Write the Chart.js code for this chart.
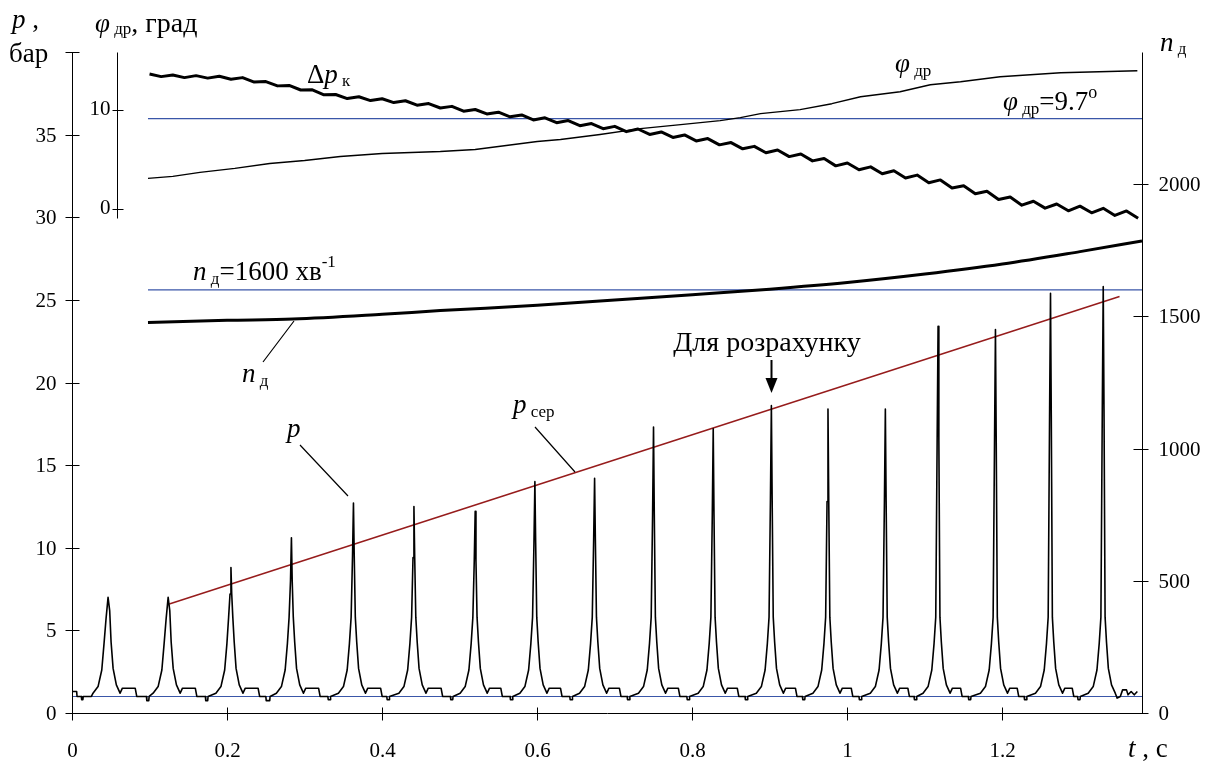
<!DOCTYPE html>
<html>
<head>
<meta charset="utf-8">
<script src="https://cdn.jsdelivr.net/npm/chart.js@4.4.1/dist/chart.umd.min.js"></script>
<style>
  html, body { margin: 0; padding: 0; background: #fff; }
  #wrap { width: 1209px; height: 761px; }
</style>
</head>
<body>
<div id="wrap"><canvas id="chart" width="1209" height="761"></canvas></div>
<script>
// ---- Дані ----
const xTicks = [0, 0.2, 0.4, 0.6, 0.8, 1, 1.2];
const pTicks = [0, 5, 10, 15, 20, 25, 30, 35];
const nTicks = [0, 500, 1000, 1500, 2000];
const phiTicks = [0, 10];

// тиск у циліндрі p, бар: [t, p]
const pTrace = [
  [0,1.3],[0.006,1.3],[0.0065,1.0],[0.012,1.0],[0.0125,0.8],[0.014,0.8],[0.0145,1.0],[0.025,1.0],
  [0.0271,1.2],[0.0336,1.6],[0.0384,2.6],[0.0413,4.2],[0.0439,5.7],[0.0465,7.0],[0.0486,6.2],[0.0504,4.3],[0.053,2.7],[0.0572,1.7],[0.062,1.2],[0.065,1.5],[0.0815,1.5],[0.0835,1.0],
  [0.096,1.0],[0.0965,0.75],[0.099,0.75],[0.0995,1.0],
  [0.1046,1.2],[0.1111,1.6],[0.1159,2.6],[0.1188,4.2],[0.1214,5.7],[0.124,7.0],[0.1261,6.2],[0.1279,4.3],[0.1305,2.7],[0.1347,1.7],[0.1395,1.2],[0.1425,1.5],[0.159,1.5],[0.161,1.0],
  [0.172,1.0],[0.1725,0.75],[0.175,0.75],[0.1755,1.0],
  [0.1856,1.2],[0.1921,1.6],[0.1969,2.6],[0.1998,4.2],[0.202,5.8],[0.2038,7.2],[0.205,8.8],[0.206,7.2],[0.2074,5.8],[0.2092,4.3],[0.2116,2.7],[0.2157,1.7],[0.2205,1.2],[0.2235,1.5],[0.24,1.5],[0.242,1.0],
  [0.25,1.0],[0.2505,0.75],[0.255,0.75],[0.2555,1.0],
  [0.2636,1.2],[0.2701,1.6],[0.2749,2.6],[0.2778,4.2],[0.28,5.8],[0.2818,8.0],[0.283,10.6],[0.284,8.0],[0.2854,5.8],[0.2872,4.3],[0.2896,2.7],[0.2937,1.7],[0.2985,1.2],[0.3015,1.5],[0.318,1.5],[0.32,1.0],
  [0.33,1.0],[0.3305,0.8],[0.333,0.8],[0.3335,1.0],
  [0.3436,1.2],[0.3501,1.6],[0.3549,2.6],[0.3578,4.2],[0.36,5.8],[0.3618,9.5],[0.363,12.7],[0.364,9.5],[0.3654,5.8],[0.3672,4.3],[0.3696,2.7],[0.3737,1.7],[0.3785,1.2],[0.3815,1.5],[0.398,1.5],[0.4,1.0],
  [0.406,1.0],[0.4065,0.8],[0.409,0.8],[0.4095,1.0],
  [0.4216,1.2],[0.4281,1.6],[0.4329,2.6],[0.4358,4.2],[0.438,5.8],[0.4398,9.4],[0.441,12.5],[0.442,9.4],[0.4434,5.8],[0.4452,4.3],[0.4476,2.7],[0.4517,1.7],[0.4565,1.2],[0.4595,1.5],[0.476,1.5],[0.478,1.0],
  [0.488,1.0],[0.4885,0.8],[0.491,0.8],[0.4915,1.0],
  [0.5006,1.2],[0.5071,1.6],[0.5119,2.6],[0.5148,4.2],[0.517,5.8],[0.5188,9.2],[0.52,12.2],[0.521,9.2],[0.5224,5.8],[0.5242,4.3],[0.5266,2.7],[0.5307,1.7],[0.5355,1.2],[0.5385,1.5],[0.553,1.5],[0.555,1.0],
  [0.565,1.0],[0.5655,0.8],[0.568,0.8],[0.5685,1.0],
  [0.5776,1.2],[0.5841,1.6],[0.5889,2.6],[0.5918,4.2],[0.594,5.8],[0.5958,10.3],[0.597,14.0],[0.598,10.3],[0.5994,5.8],[0.6012,4.3],[0.6036,2.7],[0.6077,1.7],[0.6125,1.2],[0.6155,1.5],[0.63,1.5],[0.632,1.0],
  [0.642,1.0],[0.6425,0.8],[0.645,0.8],[0.6455,1.0],
  [0.6546,1.2],[0.6611,1.6],[0.6659,2.6],[0.6688,4.2],[0.671,5.8],[0.6728,10.5],[0.674,14.2],[0.675,10.5],[0.6764,5.8],[0.6782,4.3],[0.6806,2.7],[0.6847,1.7],[0.6895,1.2],[0.6925,1.5],[0.706,1.5],[0.708,1.0],
  [0.716,1.0],[0.7165,0.8],[0.719,0.8],[0.7195,1.0],
  [0.7306,1.2],[0.7371,1.6],[0.7419,2.6],[0.7448,4.2],[0.747,5.8],[0.7488,12.0],[0.75,17.3],[0.751,12.0],[0.7524,5.8],[0.7542,4.3],[0.7566,2.7],[0.7607,1.7],[0.7655,1.2],[0.7685,1.5],[0.782,1.5],[0.784,1.0],
  [0.793,1.0],[0.7935,0.8],[0.796,0.8],[0.7965,1.0],
  [0.8076,1.2],[0.8141,1.6],[0.8189,2.6],[0.8218,4.2],[0.824,5.8],[0.8258,12.0],[0.827,17.2],[0.828,12.0],[0.8294,5.8],[0.8312,4.3],[0.8336,2.7],[0.8377,1.7],[0.8425,1.2],[0.8455,1.5],[0.858,1.5],[0.86,1.0],
  [0.868,1.0],[0.8685,0.8],[0.871,0.8],[0.8715,1.0],
  [0.8826,1.2],[0.8891,1.6],[0.8939,2.6],[0.8968,4.2],[0.899,5.8],[0.9008,13.0],[0.902,18.6],[0.903,13.0],[0.9044,5.8],[0.9062,4.3],[0.9086,2.7],[0.9127,1.7],[0.9175,1.2],[0.9205,1.5],[0.933,1.5],[0.935,1.0],
  [0.942,1.0],[0.9425,0.8],[0.945,0.8],[0.9455,1.0],
  [0.9556,1.2],[0.9621,1.6],[0.9669,2.6],[0.9698,4.2],[0.972,5.8],[0.9738,12.8],[0.975,18.4],[0.976,12.8],[0.9774,5.8],[0.9792,4.3],[0.9816,2.7],[0.9857,1.7],[0.9905,1.2],[0.9935,1.5],[1.005,1.5],[1.007,1.0],
  [1.015,1.0],[1.0155,0.8],[1.018,0.8],[1.0185,1.0],
  [1.0296,1.2],[1.0361,1.6],[1.0409,2.6],[1.0438,4.2],[1.046,5.8],[1.0478,12.8],[1.049,18.4],[1.05,12.8],[1.0514,5.8],[1.0532,4.3],[1.0556,2.7],[1.0597,1.7],[1.0645,1.2],[1.0675,1.5],[1.078,1.5],[1.08,1.0],
  [1.086,1.0],[1.0865,0.8],[1.089,0.8],[1.0895,1.0],
  [1.0976,1.2],[1.1041,1.6],[1.1089,2.6],[1.1118,4.2],[1.114,5.8],[1.1158,16.5],[1.117,23.4],[1.118,16.5],[1.1194,5.8],[1.1212,4.3],[1.1236,2.7],[1.1277,1.7],[1.1325,1.2],[1.1355,1.5],[1.146,1.5],[1.148,1.0],
  [1.156,1.0],[1.1565,0.8],[1.159,0.8],[1.1595,1.0],
  [1.1716,1.2],[1.1781,1.6],[1.1829,2.6],[1.1858,4.2],[1.188,5.8],[1.1898,16.4],[1.191,23.2],[1.192,16.4],[1.1934,5.8],[1.1952,4.3],[1.1976,2.7],[1.2017,1.7],[1.2065,1.2],[1.2095,1.5],[1.219,1.5],[1.221,1.0],
  [1.228,1.0],[1.2285,0.8],[1.231,0.8],[1.2315,1.0],
  [1.2426,1.2],[1.2491,1.6],[1.2539,2.6],[1.2568,4.2],[1.259,5.8],[1.2608,18.0],[1.262,25.4],[1.263,18.0],[1.2644,5.8],[1.2662,4.3],[1.2686,2.7],[1.2727,1.7],[1.2775,1.2],[1.2805,1.5],[1.29,1.5],[1.292,1.0],
  [1.297,1.0],[1.2975,0.8],[1.3,0.8],[1.3005,1.0],
  [1.3106,1.2],[1.3171,1.6],[1.3219,2.6],[1.3248,4.2],[1.327,5.8],[1.3288,18.4],[1.33,25.8],[1.331,18.4],[1.3324,5.8],[1.3342,4.3],[1.3366,2.7],[1.3407,1.7],[1.3455,1.2],[1.348,0.9],[1.352,1.0],[1.355,1.4],[1.36,1.4],[1.362,1.1],[1.366,1.3],[1.37,1.1],[1.374,1.3]
];

// середній тиск p_сер (пряма)
const pSer = [[0.1255, 6.6], [1.351, 25.2]];

// частота обертання n_д, хв-1
const nTrace = [[0.098,1477],[0.2,1485],[0.285,1490],[0.4,1508],[0.475,1522],[0.6,1542],[0.7,1562],[0.8,1582],[0.9,1603],[1.0,1628],[1.1,1660],[1.2,1698],[1.3,1745],[1.38,1785]];

// кут дроселя φ_др, град
const phiTrace = [[0.098,3.1],[0.13,3.3],[0.165,3.7],[0.21,4.1],[0.255,4.6],[0.3,4.9],[0.346,5.3],[0.4,5.6],[0.475,5.8],[0.52,6.0],[0.56,6.4],[0.6,6.8],[0.63,7.0],[0.681,7.5],[0.733,8.1],[0.785,8.5],[0.836,8.9],[0.862,9.2],[0.888,9.6],[0.939,10.0],[0.98,10.6],[1.017,11.3],[1.068,11.8],[1.107,12.5],[1.146,12.8],[1.197,13.3],[1.275,13.7],[1.374,13.9]];

// перепад тиску Δp_к, бар (шкала p)
const dpTrace = [
  [0.100,38.67],[0.115,38.51],[0.130,38.61],[0.145,38.45],[0.160,38.57],[0.175,38.42],[0.190,38.53],[0.205,38.35],
  [0.220,38.45],[0.235,38.18],[0.250,38.21],[0.265,37.95],[0.280,37.98],[0.295,37.70],[0.310,37.71],[0.325,37.41],
  [0.340,37.43],[0.355,37.18],[0.370,37.29],[0.385,37.06],[0.400,37.17],[0.415,36.94],[0.430,37.05],[0.445,36.78],
  [0.460,36.88],[0.475,36.61],[0.490,36.71],[0.505,36.42],[0.520,36.52],[0.535,36.25],[0.550,36.36],[0.565,36.08],
  [0.580,36.19],[0.595,35.89],[0.610,36.02],[0.625,35.72],[0.640,35.85],[0.655,35.54],[0.670,35.67],[0.685,35.36],
  [0.700,35.50],[0.715,35.18],[0.730,35.34],[0.745,35.01],[0.760,35.16],[0.775,34.83],[0.790,34.98],[0.805,34.62],
  [0.820,34.76],[0.835,34.38],[0.850,34.52],[0.865,34.14],[0.880,34.29],[0.895,33.90],[0.910,34.07],[0.925,33.67],
  [0.940,33.83],[0.955,33.41],[0.970,33.55],[0.985,33.11],[1.000,33.28],[1.015,32.87],[1.030,33.05],[1.045,32.63],
  [1.060,32.81],[1.075,32.38],[1.090,32.55],[1.105,32.09],[1.120,32.26],[1.135,31.77],[1.150,31.91],[1.165,31.42],
  [1.180,31.57],[1.195,31.07],[1.210,31.22],[1.225,30.73],[1.240,30.97],[1.255,30.55],[1.270,30.80],[1.285,30.39],
  [1.300,30.67],[1.315,30.27],[1.330,30.54],[1.345,30.11],[1.360,30.38],[1.375,29.94]
];

// опорні рівні
const pRef = 1.0;       // бар
const nRef = 1600;      // хв-1
const phiRef = 9.1;     // положення лінії φ_др=9.7° на шкалі
const refStart = 0.098; // початок верхніх опорних ліній, с

const SERIF = '"Liberation Serif", "Times New Roman", serif';
const BLUE = 'rgb(58, 86, 168)';
const RED = 'rgb(150, 28, 28)';

const xy = arr => arr.map(([x, y]) => ({ x, y }));

// текст з індексами
function rich(ctx, x, y, parts) {
  let cx = x;
  for (const [txt, font, dy] of parts) {
    ctx.font = font;
    ctx.fillText(txt, cx, y + (dy || 0));
    cx += ctx.measureText(txt).width;
  }
}

const big = '27px ' + SERIF;
const ital = 'italic 27px ' + SERIF;
const sub = '17px ' + SERIF;
const tickFont = '21px ' + SERIF;

// Осі, підписи та анотації
const axesPlugin = {
  id: 'axesPlugin',
  afterDraw(chart) {
    const ctx = chart.ctx, a = chart.chartArea, s = chart.scales;
    const L = Math.round(a.left) + 0.5, R = Math.round(a.right) + 0.5;
    const T = Math.round(a.top) + 0.5, B = Math.round(a.bottom) + 0.5;
    const px = v => Math.round(s.x.getPixelForValue(v)) + 0.5;
    const py = v => Math.round(s.yP.getPixelForValue(v)) + 0.5;
    const pn = v => Math.round(s.yN.getPixelForValue(v)) + 0.5;
    const pf = v => Math.round(s.yPhi.getPixelForValue(v)) + 0.5;
    const phiX = L + 45;

    ctx.save();
    ctx.strokeStyle = '#000';
    ctx.fillStyle = '#000';
    ctx.lineWidth = 1;
    ctx.beginPath();
    ctx.moveTo(L, T); ctx.lineTo(L, B); ctx.lineTo(R, B);
    ctx.moveTo(R, T); ctx.lineTo(R, B);
    [...pTicks, 40].forEach(v => { ctx.moveTo(L - 7, py(v)); ctx.lineTo(L + 7, py(v)); });
    nTicks.forEach(v => { ctx.moveTo(R - 9, pn(v)); ctx.lineTo(R + 6, pn(v)); });
    xTicks.forEach(v => { ctx.moveTo(px(v), B - 6); ctx.lineTo(px(v), B + 7); });
    // окрема вісь φ_др
    ctx.moveTo(phiX, T); ctx.lineTo(phiX, pf(-0.9));
    phiTicks.forEach(v => { ctx.moveTo(phiX - 5, pf(v)); ctx.lineTo(phiX + 6, pf(v)); });
    ctx.stroke();

    // підписи поділок
    ctx.font = tickFont;
    ctx.textBaseline = 'middle';
    ctx.textAlign = 'right';
    pTicks.forEach(v => ctx.fillText(String(v), L - 16, py(v) + 1));
    phiTicks.forEach(v => ctx.fillText(String(v), phiX - 7, pf(v) - 1));
    ctx.textAlign = 'left';
    nTicks.forEach(v => ctx.fillText(String(v), R + 16, pn(v) + 1));
    ctx.textAlign = 'center';
    ctx.textBaseline = 'alphabetic';
    xTicks.forEach(v => ctx.fillText(String(v), px(v), 757));

    // назви осей
    ctx.textAlign = 'left';
    rich(ctx, 12, 28, [['p', ital], [' ,', big]]);
    ctx.font = big; ctx.fillText('бар', 9, 62);
    rich(ctx, 95, 32, [['φ', ital], [' др', sub, 2], [', град', '28px ' + SERIF]]);
    rich(ctx, 1160, 51, [['n', ital], [' д', sub, 3]]);
    rich(ctx, 1128, 757, [['t', ital], [' , с', big]]);

    // анотації кривих
    rich(ctx, 307, 83, [['Δ', big], ['p', ital], [' к', sub, 3]]);
    rich(ctx, 895, 72, [['φ', ital], [' др', sub, 4]]);
    rich(ctx, 1003, 110, [['φ', ital], [' др', sub, 4], ['=9.7', big], ['o', '18px ' + SERIF, -12]]);
    rich(ctx, 193, 280, [['n', ital], [' д', sub, 4], ['=1600 хв', big], ['-1', sub, -13]]);
    rich(ctx, 242, 382, [['n', ital], [' д', sub, 4]]);
    rich(ctx, 287, 437, [['p', ital]]);
    rich(ctx, 513, 413, [['p', ital], [' сер', sub, 4]]);
    ctx.font = '28px ' + SERIF;
    ctx.textAlign = 'center';
    ctx.fillText('Для розрахунку', 767, 351);

    // лінії-виноски
    ctx.lineWidth = 1.2;
    ctx.beginPath();
    ctx.moveTo(263, 362); ctx.lineTo(294, 321);
    ctx.moveTo(300, 445); ctx.lineTo(348, 496);
    ctx.moveTo(535, 427); ctx.lineTo(575, 472);
    ctx.stroke();
    // стрілка
    const ax = px(0.902);
    ctx.lineWidth = 2;
    ctx.beginPath(); ctx.moveTo(ax, 360); ctx.lineTo(ax, 382); ctx.stroke();
    ctx.beginPath(); ctx.moveTo(ax - 6, 378); ctx.lineTo(ax + 6, 378); ctx.lineTo(ax, 393); ctx.closePath(); ctx.fill();
    ctx.restore();
  }
};

const ctx = document.getElementById('chart').getContext('2d');
new Chart(ctx, {
  type: 'line',
  data: {
    datasets: [
      { data: xy(pTrace), yAxisID: 'yP', borderColor: '#000', borderWidth: 1.6 },
      { data: xy(nTrace), yAxisID: 'yN', borderColor: '#000', borderWidth: 3, cubicInterpolationMode: 'monotone' },
      { data: xy(phiTrace), yAxisID: 'yPhi', borderColor: '#000', borderWidth: 1.4 },
      { data: xy(dpTrace), yAxisID: 'yP', borderColor: '#000', borderWidth: 3 },
      { data: xy(pSer), yAxisID: 'yP', borderColor: RED, borderWidth: 1.5 },
      { data: [{ x: 0, y: pRef }, { x: 1.38, y: pRef }], yAxisID: 'yP', borderColor: BLUE, borderWidth: 1.2 },
      { data: [{ x: refStart, y: nRef }, { x: 1.38, y: nRef }], yAxisID: 'yN', borderColor: BLUE, borderWidth: 1.3 },
      { data: [{ x: refStart, y: phiRef }, { x: 1.38, y: phiRef }], yAxisID: 'yPhi', borderColor: BLUE, borderWidth: 1.3 }
    ]
  },
  options: {
    responsive: false,
    animation: false,
    events: [],
    layout: { padding: { left: 72, top: 52, right: 67, bottom: 48 } },
    elements: { point: { radius: 0 }, line: { tension: 0, borderJoinStyle: 'round' } },
    plugins: { legend: { display: false }, tooltip: { enabled: false } },
    scales: {
      x: { type: 'linear', min: 0, max: 1.38, display: false },
      yP: { type: 'linear', min: 0, max: 40, display: false },
      yN: { type: 'linear', min: 0, max: 2500, display: false },
      yPhi: { type: 'linear', min: -50.58, max: 15.79, display: false }
    }
  },
  plugins: [axesPlugin]
});
</script>
</body>
</html>
